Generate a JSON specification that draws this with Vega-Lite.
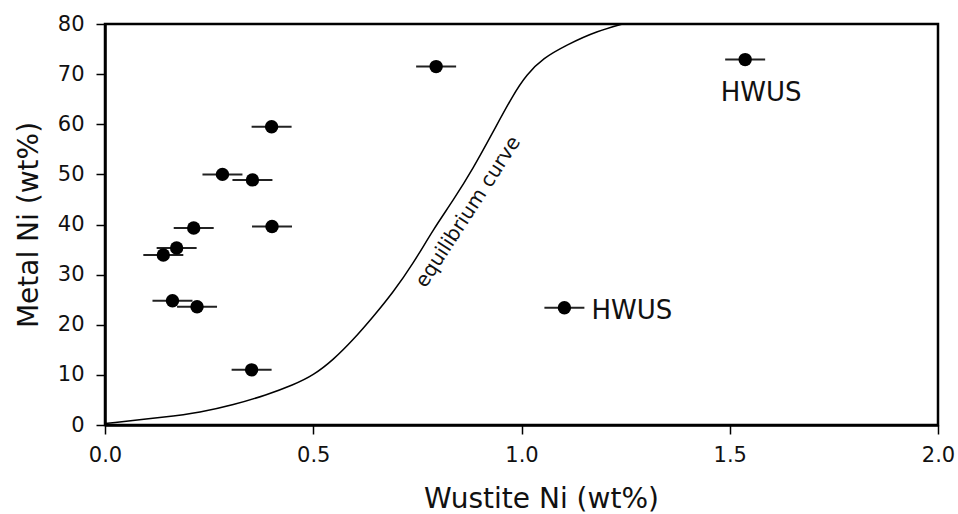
{
  "$schema": "https://vega.github.io/schema/vega-lite/v6.json",
  "autosize": "none",
  "width": 833,
  "height": 401,
  "padding": {"left": 105, "top": 24, "right": 20, "bottom": 89},
  "background": "white",
  "config": {
    "font": "DejaVu Sans",
    "view": {"stroke": "black", "strokeWidth": 2.5},
    "axis": {
      "grid": false,
      "domainColor": "black",
      "domainWidth": 2.5,
      "tickColor": "black",
      "tickWidth": 1.5,
      "tickSize": 9,
      "labelFont": "DejaVu Sans",
      "labelFontSize": 21,
      "labelColor": "#111",
      "labelFlush": false,
      "labelOverlap": false,
      "titleFont": "DejaVu Sans",
      "titleFontSize": 28,
      "titleFontWeight": "normal",
      "titleColor": "#111"
    }
  },
  "datasets": {
    "points": [
      {"id": 1, "wustite": 0.400, "metal": 59.5, "err": 0.048, "label": ""},
      {"id": 2, "wustite": 0.282, "metal": 50.0, "err": 0.048, "label": ""},
      {"id": 3, "wustite": 0.354, "metal": 48.9, "err": 0.048, "label": ""},
      {"id": 4, "wustite": 0.401, "metal": 39.6, "err": 0.048, "label": ""},
      {"id": 5, "wustite": 0.213, "metal": 39.3, "err": 0.048, "label": ""},
      {"id": 6, "wustite": 0.172, "metal": 35.3, "err": 0.048, "label": ""},
      {"id": 7, "wustite": 0.140, "metal": 33.9, "err": 0.048, "label": ""},
      {"id": 8, "wustite": 0.162, "metal": 24.8, "err": 0.048, "label": ""},
      {"id": 9, "wustite": 0.221, "metal": 23.6, "err": 0.048, "label": ""},
      {"id": 10, "wustite": 0.352, "metal": 11.0, "err": 0.048, "label": ""},
      {"id": 11, "wustite": 0.795, "metal": 71.5, "err": 0.048, "label": ""},
      {"id": 12, "wustite": 1.537, "metal": 72.9, "err": 0.048, "label": "HWUS"},
      {"id": 13, "wustite": 1.103, "metal": 23.4, "err": 0.048, "label": "HWUS"}
    ],
    "curve": [
      {"wustite": 0.0, "metal": 0.3},
      {"wustite": 0.148, "metal": 1.6},
      {"wustite": 0.228, "metal": 2.5},
      {"wustite": 0.308, "metal": 4.0},
      {"wustite": 0.388, "metal": 6.0},
      {"wustite": 0.452, "metal": 8.0},
      {"wustite": 0.500, "metal": 9.9},
      {"wustite": 0.548, "metal": 13.0},
      {"wustite": 0.596, "metal": 17.0},
      {"wustite": 0.644, "metal": 21.6},
      {"wustite": 0.692, "metal": 26.5},
      {"wustite": 0.740, "metal": 32.2},
      {"wustite": 0.788, "metal": 39.0},
      {"wustite": 0.836, "metal": 44.8},
      {"wustite": 0.884, "metal": 51.2},
      {"wustite": 0.932, "metal": 58.5},
      {"wustite": 0.980, "metal": 65.9},
      {"wustite": 1.012, "metal": 69.9},
      {"wustite": 1.052, "metal": 73.2},
      {"wustite": 1.108, "metal": 75.8},
      {"wustite": 1.180, "metal": 78.6},
      {"wustite": 1.265, "metal": 80.5}
    ],
    "notes": [
      {"wustite": 0.872, "metal": 42.5, "text": "equilibrium curve"}
    ]
  },
  "layer": [
    {
      "data": {"name": "curve"},
      "mark": {"type": "line", "color": "black", "strokeWidth": 1.5, "interpolate": "basis", "clip": true},
      "encoding": {
        "x": {"field": "wustite", "type": "quantitative", "title": "Wustite Ni (wt%)", "scale": {"domain": [0, 2]},
              "axis": {"values": [0, 0.5, 1, 1.5, 2], "format": ".1f", "labelPadding": 10,
                       "titleX": 436, "titleY": 82, "titleBaseline": "alphabetic", "titleAlign": "center", "titleAnchor": null}},
        "y": {"field": "metal", "type": "quantitative", "title": "Metal Ni (wt%)", "scale": {"domain": [0, 80]},
              "axis": {"values": [0, 10, 20, 30, 40, 50, 60, 70, 80], "labelPadding": 12,
                       "titleX": -68, "titleBaseline": "alphabetic", "titleAngle": -90}}
      }
    },
    {
      "data": {"name": "points"},
      "mark": {"type": "errorbar", "color": "#222", "thickness": 2},
      "encoding": {
        "x": {"field": "wustite", "type": "quantitative", "title": "Wustite Ni (wt%)"},
        "xError": {"field": "err"},
        "y": {"field": "metal", "type": "quantitative", "title": "Metal Ni (wt%)"}
      }
    },
    {
      "data": {"name": "points"},
      "mark": {"type": "point", "filled": true, "color": "black", "opacity": 1, "size": 180},
      "encoding": {
        "x": {"field": "wustite", "type": "quantitative", "title": "Wustite Ni (wt%)"},
        "y": {"field": "metal", "type": "quantitative", "title": "Metal Ni (wt%)"}
      }
    },
    {
      "data": {"name": "points"},
      "transform": [{"filter": "datum.id == 13"}],
      "mark": {"type": "text", "align": "left", "baseline": "middle", "dx": 27, "dy": 3, "fontSize": 26, "color": "#111"},
      "encoding": {
        "x": {"field": "wustite", "type": "quantitative", "title": "Wustite Ni (wt%)"},
        "y": {"field": "metal", "type": "quantitative", "title": "Metal Ni (wt%)"},
        "text": {"field": "label"}
      }
    },
    {
      "data": {"name": "points"},
      "transform": [{"filter": "datum.id == 12"}],
      "mark": {"type": "text", "align": "center", "baseline": "middle", "dx": 16, "dy": 33, "fontSize": 26, "color": "#111"},
      "encoding": {
        "x": {"field": "wustite", "type": "quantitative", "title": "Wustite Ni (wt%)"},
        "y": {"field": "metal", "type": "quantitative", "title": "Metal Ni (wt%)"},
        "text": {"field": "label"}
      }
    },
    {
      "data": {"name": "notes"},
      "mark": {"type": "text", "align": "center", "baseline": "middle", "angle": -57, "fontSize": 20, "color": "#111"},
      "encoding": {
        "x": {"field": "wustite", "type": "quantitative", "title": "Wustite Ni (wt%)"},
        "y": {"field": "metal", "type": "quantitative", "title": "Metal Ni (wt%)"},
        "text": {"field": "text"}
      }
    }
  ]
}
